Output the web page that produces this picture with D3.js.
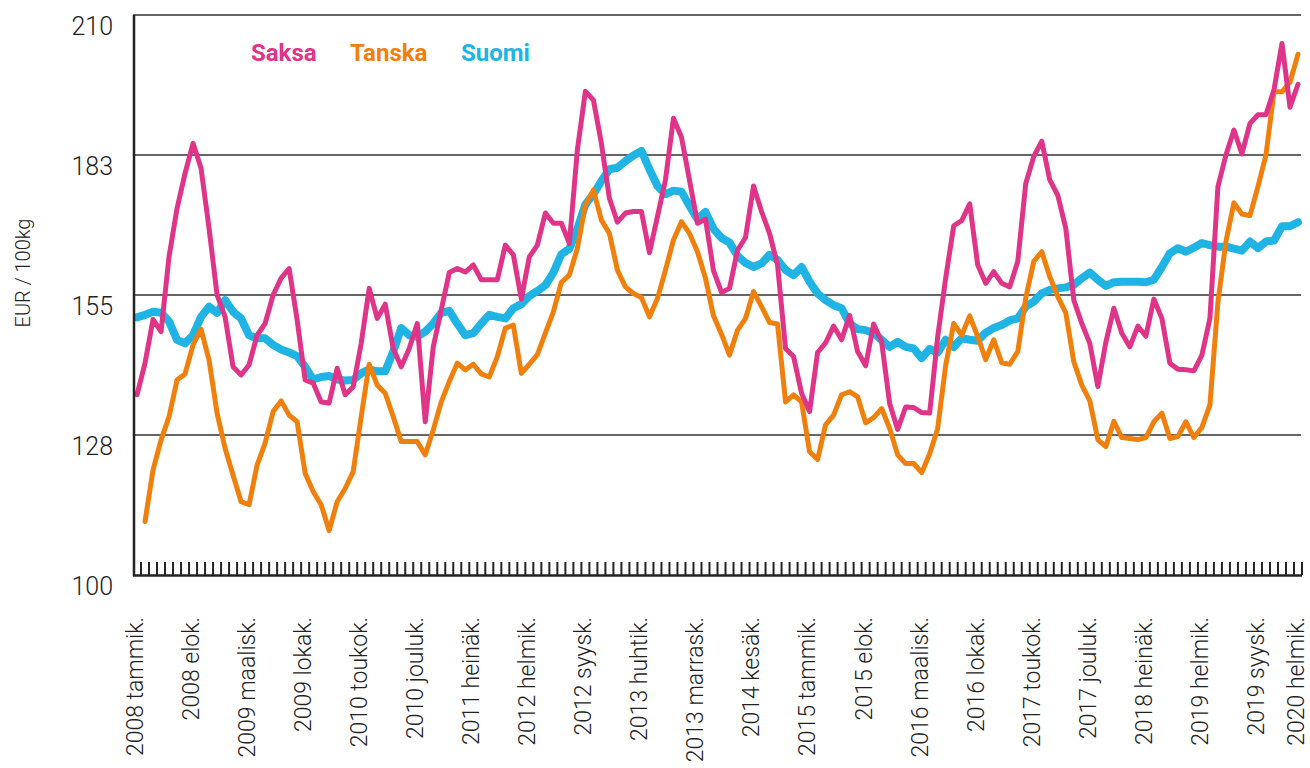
<!DOCTYPE html>
<html>
<head>
<meta charset="utf-8">
<script src="https://cdn.jsdelivr.net/npm/d3@7"></script>
<style>
  html, body { margin: 0; padding: 0; background: #fff; }
  body { width: 1310px; height: 768px; overflow: hidden; }
  text { font-family: Roboto, "Noto Sans", sans-serif; fill: #222; }
</style>
</head>
<body>
<div id="chart"></div>
<script>
const width = 1310;
const height = 768;

// months, 2008 tammik. .. 2020 helmik.
const monthNames = ["tammik.", "helmik.", "maalisk.", "huhtik.", "toukok.", "kesäk.",
  "heinäk.", "elok.", "syysk.", "lokak.", "marrask.", "jouluk."];
const firstYear = 2008;
const monthCount = 146;
const labelEvery = 7;

const yTicks = [100, 127.5, 155, 182.5, 210];
const yTickLabels = ["100", "128", "155", "183", "210"];

// EUR / 100kg
const saksa = [
  135.4, 141.6, 150.2, 147.8, 162.5, 172.0, 178.9, 184.8, 179.9, 168.1, 155.0, 150.7,
  140.9, 139.3, 141.3, 147.1, 149.4, 155.0, 158.3, 160.2, 150.1, 138.3, 137.7, 134.0,
  133.8, 140.6, 135.4, 137.0, 145.5, 156.3, 150.4, 153.2, 144.5, 140.9, 144.5, 149.4,
  130.1, 144.8, 152.1, 159.4, 160.2, 159.5, 160.9, 158.0, 158.0, 158.0, 164.8, 162.9,
  154.2, 162.5, 164.8, 171.1, 169.1, 169.1, 165.1, 183.5, 195.0, 193.3, 184.8, 174.0,
  169.3, 171.1, 171.4, 171.4, 163.3, 170.4, 177.6, 189.7, 186.0, 177.6, 169.1, 169.9,
  159.8, 155.5, 156.3, 163.8, 166.3, 176.4, 171.4, 167.1, 160.9, 144.5, 142.9, 135.7,
  132.1, 143.7, 145.6, 148.9, 146.2, 151.0, 143.9, 141.1, 149.3, 145.8, 133.7, 128.6,
  133.0, 132.9, 131.9, 131.8, 146.8, 158.3, 168.6, 169.6, 172.9, 160.9, 157.3, 159.6,
  157.3, 156.6, 161.6, 176.9, 182.2, 185.2, 177.6, 174.6, 168.1, 154.0, 149.4, 145.5,
  137.0, 145.7, 152.4, 147.5, 144.8, 148.9, 146.9, 154.2, 150.4, 141.6, 140.4, 140.3,
  140.1, 143.2, 150.4, 176.3, 182.5, 187.4, 182.7, 188.7, 190.4, 190.4, 195.3, 204.4,
  191.9, 196.4
];

const tanska = [
  null, 110.5, 120.6, 126.5, 131.1, 138.3, 139.5, 145.2, 148.3, 142.2, 131.8, 124.9,
  119.6, 114.4, 113.8, 121.6, 125.9, 132.1, 134.2, 131.4, 130.1, 120.0, 116.4, 113.8,
  108.7, 114.4, 117.0, 120.3, 131.1, 141.4, 137.3, 135.7, 131.1, 126.2, 126.2, 126.2,
  123.6, 128.5, 134.0, 138.0, 141.6, 140.3, 141.4, 139.5, 138.9, 142.9, 148.5, 149.1,
  139.6, 141.4, 143.3, 147.5, 151.7, 157.5, 158.9, 164.2, 172.7, 175.6, 169.7, 167.1,
  159.9, 156.6, 155.3, 154.5, 150.7, 154.3, 159.9, 165.8, 169.4, 167.1, 163.5, 158.3,
  150.9, 147.3, 143.2, 148.1, 150.4, 155.7, 152.7, 149.6, 149.3, 134.0, 135.4, 134.0,
  124.2, 122.7, 129.5, 131.4, 135.4, 136.0, 135.0, 129.9, 130.9, 132.7, 128.8, 123.6,
  121.9, 121.9, 120.1, 123.8, 128.8, 141.2, 149.4, 147.1, 150.9, 146.8, 142.3, 146.2,
  141.7, 141.4, 143.9, 154.4, 161.6, 163.5, 158.6, 154.7, 151.5, 141.9, 137.3, 134.2,
  126.6, 125.2, 130.2, 127.0, 126.8, 126.6, 127.0, 130.1, 131.8, 126.8, 127.2, 130.1,
  127.0, 129.0, 133.4, 153.6, 165.5, 173.1, 170.9, 170.6, 176.3, 182.5, 194.9, 194.9,
  196.8, 202.3
];

const suomi = [
  150.6, 151.1, 151.7, 151.5, 149.8, 146.2, 145.5, 147.1, 150.7, 152.7, 151.5, 154.0,
  151.7, 150.4, 147.1, 146.5, 146.5, 145.2, 144.3, 143.7, 143.0, 140.9, 138.4, 138.9,
  139.1, 138.4, 138.2, 138.3, 139.6, 140.4, 140.0, 140.0, 143.9, 148.5, 147.1, 146.8,
  147.8, 149.4, 151.5, 151.9, 149.4, 147.1, 147.5, 149.4, 151.1, 150.7, 150.4, 152.4,
  153.2, 154.8, 155.8, 156.9, 159.4, 163.0, 164.1, 168.0, 172.8, 174.8, 177.4, 179.7,
  180.0, 181.3, 182.4, 183.3, 179.7, 176.4, 174.8, 175.5, 175.3, 172.5, 169.9, 171.3,
  168.0, 166.2, 165.3, 162.7, 161.3, 160.5, 161.2, 162.9, 161.9, 159.9, 158.9, 160.5,
  157.6, 155.3, 154.0, 153.0, 152.4, 149.4, 148.3, 148.1, 147.5, 146.2, 144.8, 145.8,
  144.8, 144.5, 142.6, 144.4, 143.7, 146.2, 144.8, 146.5, 146.2, 146.0, 147.6, 148.5,
  149.1, 150.0, 150.4, 152.7, 153.7, 155.3, 156.0, 156.3, 156.5, 157.0, 158.3, 159.4,
  158.0, 156.8, 157.5, 157.6, 157.6, 157.6, 157.5, 158.0, 160.5, 163.2, 164.2, 163.5,
  164.3, 165.2, 164.8, 164.5, 164.5, 164.1, 163.7, 165.5, 164.2, 165.5, 165.7, 168.5,
  168.5, 169.3
];

const seriesNames = ["Saksa", "Tanska", "Suomi"];
const seriesColors = ["#de3589", "#f0800e", "#20b4e4"];
const seriesWidths = [5, 5, 8];
const seriesValues = [saksa, tanska, suomi];
const legendX = [251, 350, 461];

const months = d3.range(monthCount).map((i) =>
  `${firstYear + Math.floor(i / 12)} ${monthNames[i % 12]}`);

const margin = { left: 133, right: 9, top: 15, bottom: 192 };
const plotRight = width - margin.right;
const plotBottom = height - margin.bottom - 1;

const x = d3.scaleBand().domain(months).range([margin.left, plotRight + 1]).padding(0);
const y = d3.scaleLinear().domain([100, 210]).range([plotBottom, margin.top]);
const cx = (m) => x(m) + x.bandwidth() / 2;

const svg = d3
  .select("#chart")
  .append("svg")
  .attr("width", width)
  .attr("height", height)
  .attr("viewBox", `0 0 ${width} ${height}`);

// gridlines
svg.append("g")
  .selectAll("line")
  .data(yTicks.slice(1))
  .join("line")
  .attr("x1", margin.left)
  .attr("x2", plotRight)
  .attr("y1", (d) => y(d))
  .attr("y2", (d) => y(d))
  .attr("stroke", "#333")
  .attr("stroke-width", 1.5);

// y labels sit a bit below their line
svg.append("g")
  .selectAll("text")
  .data(yTicks)
  .join("text")
  .attr("x", 113)
  .attr("y", (d) => y(d) + 11)
  .attr("dy", "0.36em")
  .attr("text-anchor", "end")
  .style("font-size", "25px")
  .style("font-weight", 300)
  .text((d, i) => yTickLabels[i]);

svg.append("text")
  .attr("transform", `translate(30,273) rotate(-90)`)
  .attr("text-anchor", "middle")
  .style("font-size", "20px")
  .style("font-weight", 300)
  .text("EUR / 100kg");

// lines, Suomi at the bottom
const line = d3
  .line()
  .defined((d) => d != null)
  .x((d, i) => cx(months[i]))
  .y((d) => y(d));

const order = [2, 1, 0];
svg.append("g")
  .selectAll("path")
  .data(order)
  .join("path")
  .attr("d", (k) => line(seriesValues[k]))
  .attr("fill", "none")
  .attr("stroke", (k) => seriesColors[k])
  .attr("stroke-width", (k) => seriesWidths[k])
  .attr("stroke-linejoin", "round")
  .attr("stroke-linecap", "round");

// axes frame
svg.append("line")
  .attr("x1", margin.left + 1)
  .attr("x2", margin.left + 1)
  .attr("y1", margin.top)
  .attr("y2", plotBottom + 1)
  .attr("stroke", "#222")
  .attr("stroke-width", 2.5);

svg.append("line")
  .attr("x1", margin.left)
  .attr("x2", plotRight + 1)
  .attr("y1", plotBottom + 0.5)
  .attr("y2", plotBottom + 0.5)
  .attr("stroke", "#222")
  .attr("stroke-width", 2.5);

// month ticks at band edges
svg.append("g")
  .selectAll("line")
  .data(months)
  .join("line")
  .attr("x1", (d) => x(d) + x.bandwidth())
  .attr("x2", (d) => x(d) + x.bandwidth())
  .attr("y1", plotBottom - 13)
  .attr("y2", plotBottom)
  .attr("stroke", "#222")
  .attr("stroke-width", 2);

svg.append("g")
  .selectAll("text")
  .data(months.filter((d, i) => i % labelEvery === 0 || i === monthCount - 1))
  .join("text")
  .attr("transform", (d) => `translate(${cx(d) - 1},617) rotate(-90)`)
  .attr("text-anchor", "end")
  .attr("dy", "0.3em")
  .style("font-size", "23px")
  .style("font-weight", 300)
  .text((d) => d);

// legend
svg.append("g")
  .selectAll("text")
  .data(seriesNames)
  .join("text")
  .attr("x", (d, i) => legendX[i])
  .attr("y", 61)
  .style("font-size", "24px")
  .style("font-weight", "bold")
  .style("fill", (d, i) => seriesColors[i])
  .text((d) => d);
</script>
</body>
</html>
